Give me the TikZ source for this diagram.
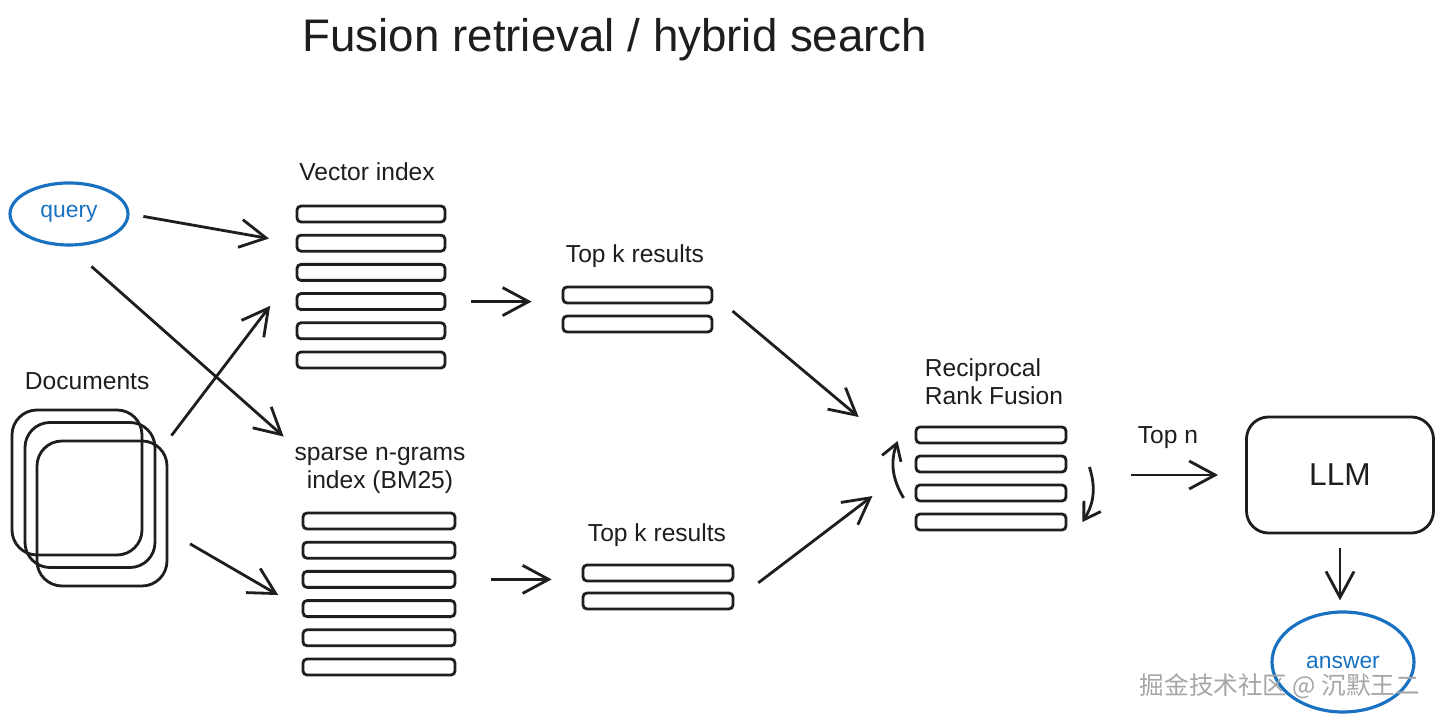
\documentclass[tikz,border=0pt]{standalone}
\usepackage{fontspec}
\setmainfont{Liberation Sans}
\newfontfamily\cjk{Noto Sans CJK SC}
\usetikzlibrary{arrows.meta,shapes.geometric}
\definecolor{qblue}{HTML}{1971C2}
\definecolor{ink}{HTML}{1E1E1E}

\begin{document}
\begin{tikzpicture}[>={Straight Barb[length=2.6mm,width=2.8mm]},line width=0.8pt,draw=ink,text=ink]
\tikzstyle{txt}=[font=\fontsize{7}{8}\selectfont,inner sep=1pt]
\tikzstyle{bar}=[draw,rectangle,rounded corners=0.04cm,minimum width=1.48cm,minimum height=0.16cm,inner sep=0pt]
\tikzstyle{doc}=[draw,rectangle,rounded corners=0.25cm,minimum width=1.3cm,minimum height=1.45cm,inner sep=0pt]
\tikzstyle{oval}=[draw=qblue,ellipse,line width=0.9pt,text=qblue,font=\fontsize{6.5}{8}\selectfont,inner sep=0pt]
\useasboundingbox (0,0) rectangle (14.4,-7.2);
\fill[white] (0,0) rectangle (14.4,-7.2);
\node[font=\fontsize{13}{15}\selectfont] (title) at (6.15,-0.40) {Fusion retrieval / hybrid search};
% inputs
\node[oval,minimum width=1.18cm,minimum height=0.62cm] (query) at (0.69,-2.14) {query};
\node[txt,anchor=west] (dlabel) at (0.2,-3.81) {Documents};
\node[doc] (d1) at (0.77,-4.825) {};
\node[doc] (d2) at (0.90,-4.95) {};
\node[doc] (d3) at (1.02,-5.135) {};
% indexes
\node[txt] (vlabel) at (3.67,-1.72) {Vector index};
\foreach \i in {1,...,6}
\node[bar] (v\i) at (3.71,{-1.848-0.292*\i}) {};
\node[txt,align=center] (blabel) at (3.80,-4.70) {sparse n-grams\\index (BM25)};
\foreach \i in {1,...,6}
\node[bar,minimum width=1.52cm] (b\i) at (3.79,{-4.918-0.292*\i}) {};
% results
\node[txt] (k1label) at (6.35,-2.56) {Top k results};
\node[bar,minimum width=1.49cm] (k1a) at (6.375,-2.95) {};
\node[bar,minimum width=1.49cm] (k1b) at (6.375,-3.24) {};
\node[txt] (k2label) at (6.57,-5.35) {Top k results};
\node[bar,minimum width=1.5cm] (k2a) at (6.58,-5.73) {};
\node[bar,minimum width=1.5cm] (k2b) at (6.58,-6.01) {};
% fusion
\node[txt,anchor=west,align=left] (rlabel) at (9.2,-3.82) {Reciprocal\\Rank Fusion};
\foreach \i in {1,...,4}
\node[bar,minimum width=1.5cm] (r\i) at (9.91,{-4.06-0.29*\i}) {};
\node[txt] (topn) at (11.68,-4.38) {Top n};
\node[draw,rounded corners=0.22cm,minimum width=1.87cm,minimum height=1.16cm,font=\fontsize{9}{11}\selectfont] (llm) at (13.40,-4.75) {LLM};
\node[oval,minimum width=1.42cm,minimum height=1.0cm] (answer) at (13.43,-6.62) {answer};
\node[font=\cjk\fontsize{7}{8}\selectfont,text=gray!70] (mark) at (12.8,-6.86) {掘金技术社区 @ 沉默王二};
% connectors
\foreach \from/\to/\s/\e in {query.east/v2.west/0.14cm/0.27cm, query.south/blabel.north west/0.3cm/0.08cm, d3.north east/v3.west/0.05cm/0.42cm, d3.-15/b4.west/0.25cm/0.27cm, k1a.east/r2.west/0.25cm/0.73cm, k2b.east/r2.west/0.3cm/0.53cm}
\draw[->,shorten <=\s,shorten >=\e] (\from) -- (\to);
\draw[->,shorten <=0.25cm,shorten >=0.3cm] (v4.east) -- (v4.east -| k1a.west);
\draw[->,shorten <=0.35cm,shorten >=0.3cm] (b3.east) -- (b3.east -| k2a.west);
\draw[->,shorten <=0.64cm,shorten >=0.27cm] (llm.west -| r3.east) -- (llm.west);
\draw[->,shorten <=0.14cm,shorten >=0.1cm] (llm.south) -- (llm.south |- answer.north);
\tikzstyle{loop}=[->,>={Straight Barb[length=1.6mm,width=2mm]}]
\draw[loop] ([shift={(-0.11,-0.05)}]r3.west) to[bend left=25] ([shift={(-0.17,-0.06)}]r1.west);
\draw[loop] ([shift={(0.22,-0.03)}]r2.east) to[bend left=25] ([shift={(0.15,0.0)}]r4.east);
\end{tikzpicture}
\end{document}
